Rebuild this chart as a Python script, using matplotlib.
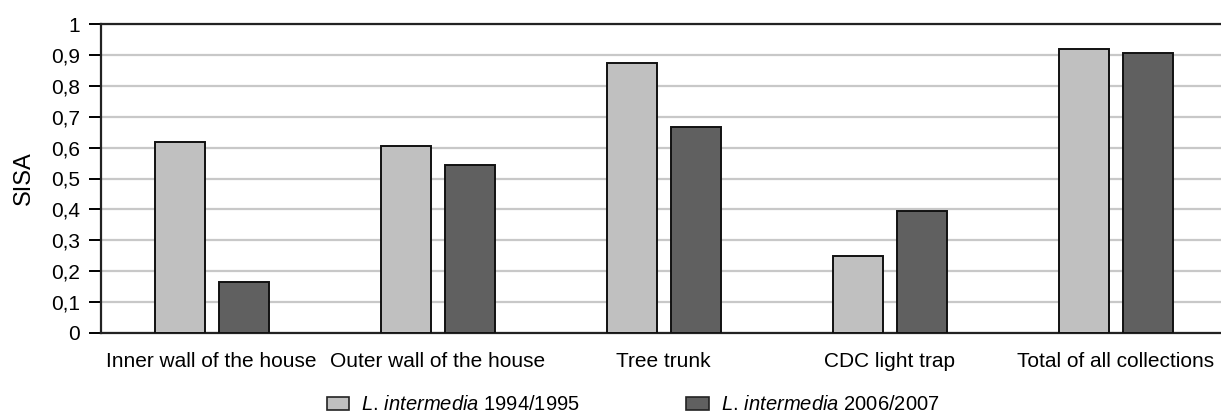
import matplotlib
matplotlib.use("Agg")
import matplotlib.pyplot as plt
import numpy as np
from matplotlib.patches import Patch

categories = ["Inner wall of the house", "Outer wall of the house", "Tree trunk",
              "CDC light trap", "Total of all collections"]
series_names = ["1994/1995", "2006/2007"]
vals_1994 = [0.618, 0.605, 0.875, 0.249, 0.918]
vals_2006 = [0.166, 0.544, 0.667, 0.394, 0.906]
yticks = [0, 0.1, 0.2, 0.3, 0.4, 0.5, 0.6, 0.7, 0.8, 0.9, 1.0]
ytick_labels = ["0", "0,1", "0,2", "0,3", "0,4", "0,5", "0,6", "0,7", "0,8", "0,9", "1"]

fam = "Liberation Sans"
plt.rcParams['font.family'] = [fam, 'DejaVu Sans']
plt.rcParams['mathtext.fontset'] = 'custom'
plt.rcParams['mathtext.it'] = fam + ':italic'
plt.rcParams['mathtext.rm'] = fam

fig = plt.figure(figsize=(12.21, 4.18), dpi=100)
ax = fig.add_axes([101/1221, 1 - 333/418, 1 - 101/1221, 309/418])

x = np.arange(len(categories))
w = 0.222
off = 0.1416
light = "#c0c0c0"
dark = "#606060"
ax.bar(x - off, vals_1994, w, color=light, edgecolor="#111111", linewidth=1.4, zorder=3)
ax.bar(x + off, vals_2006, w, color=dark, edgecolor="#111111", linewidth=1.4, zorder=3)

ax.set_xlim(-0.49, (1221 - 101) / 226 - 0.49)
ax.set_ylim(0, 1)
ax.set_yticks(yticks)
ax.set_yticklabels(ytick_labels, fontsize=15)
ax.set_xticks(x)
ax.set_xticklabels(categories, fontsize=15)
ax.tick_params(axis='x', length=0, pad=14)
ax.tick_params(axis='y', length=9, width=1.4, direction='out', pad=6)
ax.yaxis.grid(True, color="#c8c8c8", linewidth=1.6, zorder=0)
ax.set_axisbelow(True)
for s in ["left", "bottom", "top"]:
    ax.spines[s].set_linewidth(1.6)
    ax.spines[s].set_color("#222222")
ax.spines["right"].set_visible(False)
ax.set_ylabel("SISA", fontsize=17, labelpad=12)

handles = [Patch(facecolor=light, edgecolor="#222222", linewidth=1.2),
           Patch(facecolor=dark, edgecolor="#222222", linewidth=1.2)]
labels = [r"$\mathit{L.\,intermedia}$ " + series_names[0],
          r"$\mathit{L.\,intermedia}$ " + series_names[1]]
fig.legend(handles, labels, loc="center", bbox_to_anchor=(633/1221, 1 - 405/418), ncol=2,
           frameon=False, fontsize=14.5, columnspacing=5.3, handlelength=1.1, handleheight=0.65,
           handletextpad=0.6, borderpad=0)

fig.savefig("out.png", dpi=100)
